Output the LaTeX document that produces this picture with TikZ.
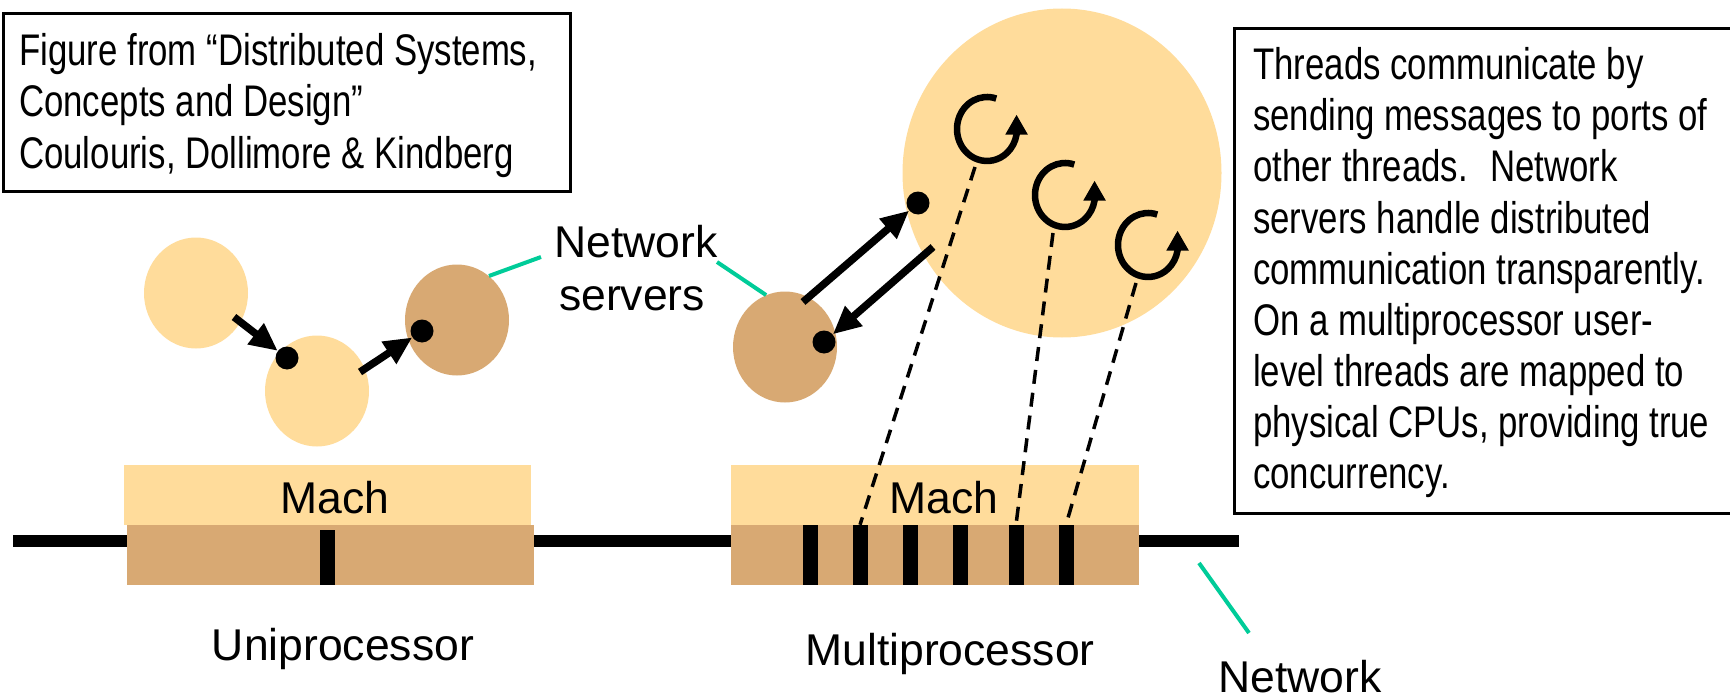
\documentclass[tikz,border=0pt]{standalone}
\usepackage{fontspec}
\setmainfont{Liberation Sans}
\newfontfamily\narrowfont[FakeStretch=0.785]{Liberation Sans}
\usetikzlibrary{
  shapes.geometric,
  positioning,
  calc,
  arrows.meta}
\tikzset{
  thread/.pic = {
    \coordinate (-b) at (-12, 38);
    \draw [line width=6.5pt, -{Triangle[length=20pt, width=21pt]}]
      (-72:30 and 32) arc [start angle=-72, end angle=-350,
      x radius=30, y radius=32] -- ++(0, -20);
  }
}
\definecolor{taskcolor}{RGB}{255,220,155}
\definecolor{servercolor}{RGB}{216,169,115}
\definecolor{leadercolor}{RGB}{0,204,153}
\tikzset{
  %% task : a task (address space)
  task/.style={
    ellipse,
    fill=taskcolor,
    inner sep=0pt,
    minimum width=104pt,
    minimum height=111pt
  },
  %% server : a network server task
  server/.style={
    ellipse,
    fill=servercolor,
    inner sep=0pt,
    minimum width=104pt,
    minimum height=111pt
  },
  %% port : a port of a task
  port/.style={
    circle,
    fill=black,
    minimum size=23pt,
    inner sep=0pt
  },
  %% msg : a message sent to a port
  msg/.style={line width=7.5pt, -{Triangle[length=28pt, width=25pt]}},
  %% mapping : a thread mapped onto a processor
  mapping/.style={line width=3.5pt, dash pattern=on 14pt off 9pt},
  %% machbox : the Mach kernel
  machbox/.style={
    rectangle,
    fill=taskcolor,
    inner sep=0pt,
    minimum width=408pt,
    minimum height=60pt
  },
  %% hwbox : the hardware
  hwbox/.style={
    rectangle,
    fill=servercolor,
    inner sep=0pt,
    minimum width=408pt,
    minimum height=60pt
  },
  %% cpu : a processor
  cpu/.style={
    rectangle,
    fill=black,
    inner sep=0pt,
    minimum width=15pt,
    minimum height=60pt
  },
  %% netline : the network
  netline/.style={line width=12pt},
  %% leader : line from a label to its object
  leader/.style={leadercolor, line width=4pt},
  %% framebox : frame around a note
  framebox/.style={rectangle, draw=black, line width=3pt, inner sep=0pt},
  %% labeltext : a label
  labeltext/.style={
    anchor=base,
    inner sep=0pt,
    font=\fontsize{44.5pt}{53pt}\selectfont
  },
  %% boxtext : one line of a note
  boxtext/.style={
    anchor=base west,
    inner sep=0pt,
    font=\narrowfont\fontsize{44.3pt}{51pt}\selectfont
  }
}

\begin{document}
\begin{tikzpicture}
  [x=1pt,
  y=-1pt]

  \useasboundingbox (0, 0) rectangle (1730, 698);

  %% Network
  \coordinate (net west) at (13, 541);
  \coordinate (net east) at (1239, 541);
  \draw [netline] (net west) -- (net east);

  %% Uniprocessor
  \node (uni mach) [machbox, minimum width=407pt] at (327, 495) {};
  \node (uni hw) [hwbox, minimum width=407pt] at (330, 555) {};
  \node (uni cpu) [cpu, minimum height=55pt] at (327, 557.5) {};
  \node (uni mach text) [labeltext] at (335, 513) {Mach};
  \node (uni text) [labeltext] at (343, 660) {Uniprocessor};

  \node (uA) [task] at (196, 293) {};
  \node (uB) [task] at (317, 391) {};
  \node (uC) [server] at (457, 320) {};
  \node (pB) [port] at (287, 358) {};
  \node (pC) [port] at (422, 331) {};
  \coordinate (sA) at (234, 317);
  \coordinate (sB) at (360, 372);
  \draw [msg] (sA) -- (pB);
  \draw [msg] (sB) -- (pC);

  %% Multiprocessor
  \node (multi mach) [machbox] at (935, 495) {};
  \node (multi hw) [hwbox] at (935, 555) {};
  \foreach \x [count=\i] in {810, 860, 910, 960, 1016, 1066}
    \node (cpu\i) [cpu] at (\x, 555) {};
  \node (multi mach text) [labeltext] at (944, 513) {Mach};
  \node (multi text) [labeltext] at (950, 665) {Multiprocessor};

  \node (mtask) [task, minimum width=319pt, minimum height=329pt] at (1062, 173) {};
  \node (mD) [server] at (785, 347) {};
  \node (pE) [port] at (918, 203) {};
  \node (pF) [port] at (824, 342) {};
  \coordinate (sD) at (803, 302);
  \coordinate (sE) at (933, 247);
  \draw [msg] (sD) -- (pE);
  \draw [msg] (sE) -- (pF);

  %% Threads and their processors
  \pic (t1) at (987, 129) {thread};
  \pic (t2) at (1065, 195) {thread};
  \pic (t3) at (1148, 245) {thread};
  \draw [mapping] (t1-b) -- (cpu2.north);
  \draw [mapping] (t2-b) -- (cpu5.north);
  \draw [mapping] (t3-b) -- (cpu6.north);

  %% Labels
  \node (ns net) [labeltext] at (636, 257) {Network};
  \node (ns srv) [labeltext] at (632, 310) {servers};
  \coordinate (ns east) at (541, 257);
  \coordinate (ns west) at (717, 262);
  \draw [leader] (uC.54) -- (ns east);
  \draw [leader] (ns west) -- (mD.110);

  \node (net text) [labeltext, anchor=base west] at (1218, 692) {Network};
  \coordinate (net top) at (1199, 563);
  \coordinate (net bottom) at (1249, 633);
  \draw [leader] (net top) -- (net bottom);

  %% Notes
  \node (source box) [framebox, anchor=north west,
    minimum width=567pt, minimum height=178pt] at (1.5, 12) {};
  \foreach \txt [count=\i] in {%
    {Figure from “Distributed Systems,},
    {Concepts and Design”},
    {Coulouris, Dollimore \& Kindberg}}
    \node (source\i) [boxtext] at (19, {15+51*\i}) {\txt};

  \node (note box) [framebox, anchor=north west,
    minimum width=505pt, minimum height=485pt] at (1233, 27) {};
  \foreach \txt [count=\i] in {%
    {Threads communicate by},
    {sending messages to ports of},
    {other threads.~ Network},
    {servers handle distributed},
    {communication transparently.},
    {On a multiprocessor user-},
    {level threads are mapped to},
    {physical CPUs, providing true},
    {concurrency.}}
    \node (note\i) [boxtext] at (1253, {29+51*\i}) {\txt};

\end{tikzpicture}
\end{document}
